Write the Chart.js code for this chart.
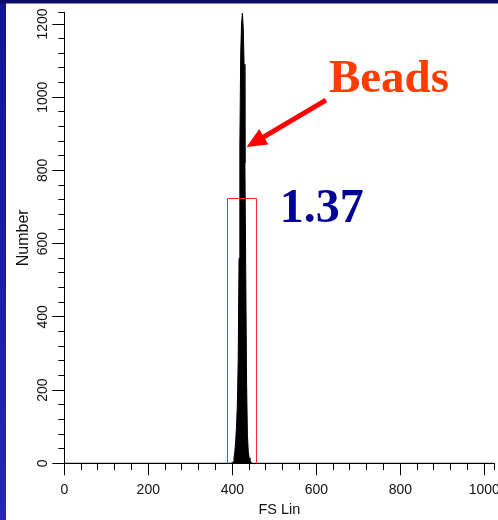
<!DOCTYPE html>
<html><head><meta charset="utf-8">
<script src="https://cdn.jsdelivr.net/npm/chart.js@4/dist/chart.umd.min.js"></script>
<style>html,body{margin:0;padding:0;background:#fff;}#wrap{width:498px;height:520px;position:relative;}</style>
</head><body><div id="wrap"><canvas id="c" width="498" height="520"></canvas></div>
<script>
// ---- data ----
const fsLinChannels = [0, 396, 398, 400, 402, 404, 406, 408, 410, 412, 414, 416, 418, 420, 422, 424, 426, 428, 430, 432, 434, 436, 438, 440, 442, 444, 446, 448, 450, 1023];
const eventCounts   = [0, 0, 1, 2, 4, 14, 32, 60, 100, 160, 280, 560, 870, 1120, 1200, 1230, 1190, 1090, 820, 520, 220, 75, 32, 15, 8, 4, 1, 0, 0, 0];
const xMajorTicks = [0, 200, 400, 600, 800, 1000];
const yMajorTicks = [0, 200, 400, 600, 800, 1000, 1200];
const gateRange = [388, 456];
const gateCount = 726;
const gateLabel = '1.37';
const peakLabel = 'Beads';

// ---- annotation placement (data units) ----
const annot = {
  peakText: {x: 630, y: 1014},
  gateText: {x: 513, y: 659},
  arrowTail: {x: 623, y: 992},
  arrowTip: {x: 434, y: 864}
};

Chart.defaults.font.family = '"Liberation Sans", Arial, sans-serif';

const bgPlugin = {
  id: 'bg',
  beforeDraw(chart) {
    const c = chart.ctx;
    c.save();
    c.fillStyle = '#ffffff';
    c.fillRect(0, 0, chart.width, chart.height);
    const g = c.createLinearGradient(0, 0, 0, chart.height);
    g.addColorStop(0, '#14148a');
    g.addColorStop(1, '#2828a8');
    c.fillStyle = g;
    c.fillRect(0, 0, 6, chart.height);
    c.fillStyle = '#0c0c6c';
    c.fillRect(0, 0, chart.width, 3.5);
    c.restore();
  }
};

const annotPlugin = {
  id: 'annot',
  afterDatasetsDraw(chart) {
    const c = chart.ctx, xs = chart.scales.x, ys = chart.scales.y;
    c.save();
    // gate
    const gx1 = Math.round(xs.getPixelForValue(gateRange[0])) + 0.5;
    const gx2 = Math.round(xs.getPixelForValue(gateRange[1])) + 0.5;
    const gy1 = Math.round(ys.getPixelForValue(gateCount)) + 0.5;
    const gy2 = ys.getPixelForValue(0);
    c.strokeStyle = '#ff2a2a';
    c.lineWidth = 1;
    c.beginPath();
    c.moveTo(gx1, gy2); c.lineTo(gx1, gy1); c.lineTo(gx2, gy1); c.lineTo(gx2, gy2);
    c.stroke();
    // arrow
    const tx = xs.getPixelForValue(annot.arrowTail.x), ty = ys.getPixelForValue(annot.arrowTail.y);
    const hx = xs.getPixelForValue(annot.arrowTip.x), hy = ys.getPixelForValue(annot.arrowTip.y);
    const dx = hx - tx, dy = hy - ty, L = Math.hypot(dx, dy);
    const ux = dx / L, uy = dy / L, px = -uy, py = ux;
    const headLen = 20, headHalf = 9;
    const bx = hx - ux * headLen, by = hy - uy * headLen;
    c.strokeStyle = '#ff0000';
    c.fillStyle = '#ff0000';
    c.lineWidth = 5;
    c.beginPath(); c.moveTo(tx, ty); c.lineTo(bx + ux * 2, by + uy * 2); c.stroke();
    c.beginPath();
    c.moveTo(hx, hy);
    c.lineTo(bx + px * headHalf, by + py * headHalf);
    c.lineTo(bx - px * headHalf, by - py * headHalf);
    c.closePath(); c.fill();
    // texts
    c.textBaseline = 'alphabetic';
    c.textAlign = 'left';
    c.font = 'bold 47px "Liberation Serif", "Times New Roman", serif';
    c.fillStyle = '#ff3c00';
    c.fillText(peakLabel, xs.getPixelForValue(annot.peakText.x), ys.getPixelForValue(annot.peakText.y));
    c.font = 'bold 48px "Liberation Serif", "Times New Roman", serif';
    c.fillStyle = '#000099';
    c.fillText(gateLabel, xs.getPixelForValue(annot.gateText.x), ys.getPixelForValue(annot.gateText.y));
    c.restore();
  }
};

new Chart(document.getElementById('c'), {
  type: 'line',
  data: {
    datasets: [{
      data: fsLinChannels.map((x, i) => ({x: x, y: eventCounts[i]})),
      borderColor: '#000', backgroundColor: '#000', borderWidth: 1,
      pointRadius: 0, fill: 'origin', tension: 0
    }]
  },
  options: {
    responsive: false, animation: false, devicePixelRatio: 1,
    layout: {padding: {top: 12.3, right: 3.6, left: 0, bottom: 0}},
    plugins: {legend: {display: false}, tooltip: {enabled: false}},
    scales: {
      x: {
        type: 'linear', min: 0, max: 1024, bounds: 'data',
        ticks: {
          stepSize: 40, includeBounds: false, autoSkip: false, maxRotation: 0, minRotation: 0,
          padding: 6, color: '#111', font: {size: 14},
          callback: v => xMajorTicks.includes(v) ? String(v) : ''
        },
        grid: {
          drawOnChartArea: false, tickLength: 12, tickColor: '#000', tickWidth: 1,
          tickBorderDash: ctx => (ctx.tick && xMajorTicks.includes(ctx.tick.value)) ? [] : [6, 6],
          tickBorderDashOffset: 0
        },
        border: {color: '#000', width: 1},
        title: {display: true, text: 'FS Lin', color: '#111', font: {size: 14.5}, padding: {top: 0, bottom: 1.3}},
        afterFit: s => { s.height = 56.7; s.paddingLeft = 0; s.paddingRight = 0; }
      },
      y: {
        type: 'linear', min: 0, max: 1232, bounds: 'data',
        ticks: {
          stepSize: 40, includeBounds: false, autoSkip: false, minRotation: 90, maxRotation: 90,
          crossAlign: 'center', padding: -6.5, color: '#111', font: {size: 14},
          callback: v => yMajorTicks.includes(v) ? String(v) : ''
        },
        grid: {
          drawOnChartArea: false, tickLength: 12, tickColor: '#000', tickWidth: 1,
          tickBorderDash: ctx => (ctx.tick && yMajorTicks.includes(ctx.tick.value)) ? [] : [6, 6],
          tickBorderDashOffset: ctx => (ctx.tick && yMajorTicks.includes(ctx.tick.value)) ? 0 : 6
        },
        border: {color: '#000', width: 1},
        title: {display: true, text: 'Number', color: '#111', font: {size: 16}, padding: {top: 13.5, bottom: 0}},
        afterFit: s => { s.width = 64.3; s.paddingTop = 0; s.paddingBottom = 0; }
      }
    }
  },
  plugins: [bgPlugin, annotPlugin]
});
</script>
</body></html>
